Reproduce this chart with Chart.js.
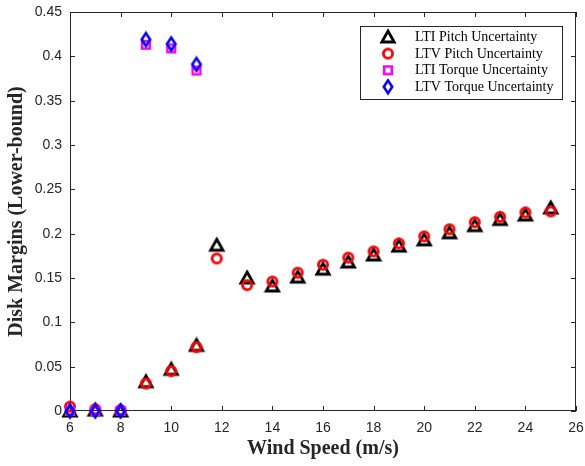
<!DOCTYPE html>
<html>
<head>
<meta charset="utf-8">
<script src="https://cdn.jsdelivr.net/npm/chart.js@4.4.1/dist/chart.umd.min.js"></script>
<style>
	body { margin: 0; background: #fff; }
	#wrap { width: 585px; height: 466px; }
</style>
</head>
<body>
<div id="wrap"><canvas id="chart"></canvas></div>
<script>
/* data */
const pitchSpeed = [6, 7, 8, 9, 10, 11, 11.8, 13, 14, 15, 16, 17, 18, 19, 20, 21, 22, 23, 24, 25]
const ltiPitch = [0, 0.001, 0, 0.033, 0.047, 0.074, 0.187, 0.150, 0.141, 0.151, 0.160, 0.168, 0.176, 0.186, 0.193, 0.201, 0.209, 0.216, 0.221, 0.229]
const ltvPitch = [0.005, 0.002, 0.001, 0.031, 0.045, 0.072, 0.172, 0.142, 0.146, 0.156, 0.165, 0.173, 0.180, 0.189, 0.197, 0.205, 0.213, 0.219, 0.224, 0.225]
const torqueSpeed = [6, 7, 8, 9, 10, 11]
const ltiTorque = [0, 0, 0, 0.413, 0.409, 0.384]
const ltvTorque = [0, 0, 0, 0.419, 0.414, 0.391]
const seriesLabels = ['LTI Pitch Uncertainty', 'LTV Pitch Uncertainty', 'LTI Torque Uncertainty', 'LTV Torque Uncertainty']
const xTicks = [6, 8, 10, 12, 14, 16, 18, 20, 22, 24, 26]
const yTicks = [0, 0.05, 0.1, 0.15, 0.2, 0.25, 0.3, 0.35, 0.4, 0.45]

const axisColor = '#262626'

// hollow MATLAB-like markers
const makeMarker = (kind, color) => {
	const c = document.createElement('canvas')
	c.width = 18
	c.height = 18
	const g = c.getContext('2d')
	g.strokeStyle = color
	g.lineWidth = 2.8
	g.lineJoin = 'miter'
	g.beginPath()
	if (kind === 'tri') {
		g.moveTo(9, 3)
		g.lineTo(15.2, 14)
		g.lineTo(2.8, 14)
		g.closePath()
	} else if (kind === 'circle') {
		g.arc(9, 9, 4.6, 0, Math.PI * 2)
	} else if (kind === 'square') {
		g.lineWidth = 2.6
		g.rect(5.2, 5.2, 7.6, 7.6)
	} else {
		g.lineWidth = 2.6
		g.moveTo(9, 2.6)
		g.lineTo(13.2, 9)
		g.lineTo(9, 15.4)
		g.lineTo(4.8, 9)
		g.closePath()
	}
	g.stroke()
	return c
}

const toPoints = (xs, ys) => xs.map((x, i) => ({ x: x, y: ys[i] }))

const frame = {
	id: 'frame',
	beforeDatasetsDraw(chart) {
		const { ctx, chartArea: a, scales: { x, y } } = chart
		ctx.save()
		ctx.strokeStyle = axisColor
		ctx.lineWidth = 1
		ctx.strokeRect(a.left + 0.5, a.top + 0.5, a.right - a.left - 1, a.bottom - a.top - 1)
		ctx.beginPath()
		xTicks.forEach((v) => {
			const px = Math.round(x.getPixelForValue(v)) + 0.5
			ctx.moveTo(px, a.bottom)
			ctx.lineTo(px, a.bottom - 5)
			ctx.moveTo(px, a.top)
			ctx.lineTo(px, a.top + 5)
		})
		yTicks.forEach((v) => {
			const py = Math.round(y.getPixelForValue(v)) + 0.5
			ctx.moveTo(a.left, py)
			ctx.lineTo(a.left + 5, py)
			ctx.moveTo(a.right, py)
			ctx.lineTo(a.right - 5, py)
		})
		ctx.stroke()
		ctx.restore()
	},
	afterDraw(chart) {
		const { ctx } = chart
		const box = { left: 360, top: 26, width: 202, height: 73 }
		ctx.save()
		ctx.fillStyle = '#fff'
		ctx.fillRect(box.left, box.top, box.width, box.height)
		ctx.strokeStyle = axisColor
		ctx.lineWidth = 1
		ctx.strokeRect(box.left + 0.5, box.top + 0.5, box.width, box.height)
		ctx.font = '14px "Liberation Serif", serif'
		ctx.textBaseline = 'middle'
		ctx.fillStyle = '#000'
		chart.data.datasets.forEach((ds, i) => {
			const cy = box.top + 11 + i * 16.6
			const m = ds.pointStyle
			ctx.drawImage(m, 388 - m.width / 2, cy - m.height / 2)
			ctx.fillText(ds.label, 415, cy + 0.5)
		})
		ctx.restore()
	}
}

new Chart('chart', {
	type: 'scatter',
	data: {
		datasets: [
			{ label: seriesLabels[0], data: toPoints(pitchSpeed, ltiPitch), pointStyle: makeMarker('tri', '#000000'), order: 4 },
			{ label: seriesLabels[1], data: toPoints(pitchSpeed, ltvPitch), pointStyle: makeMarker('circle', '#ff0000'), order: 3 },
			{ label: seriesLabels[2], data: toPoints(torqueSpeed, ltiTorque), pointStyle: makeMarker('square', '#ff00ff'), order: 2 },
			{ label: seriesLabels[3], data: toPoints(torqueSpeed, ltvTorque), pointStyle: makeMarker('diamond', '#0000ff'), order: 1 }
		]
	},
	options: {
		responsive: true,
		maintainAspectRatio: false,
		animation: false,
		clip: false,
		layout: { padding: { top: 12, right: 9, left: 0, bottom: 0 } },
		plugins: {
			legend: { display: false },
			tooltip: { enabled: false }
		},
		scales: {
			x: {
				type: 'linear',
				min: 6,
				max: 26,
				grid: { display: false, tickLength: 0 },
				border: { display: false },
				afterFit: (s) => {
					s.height = 55
					s.paddingLeft = 0
					s.paddingRight = 0
				},
				afterBuildTicks: (s) => { s.ticks = xTicks.map((v) => ({ value: v })) },
				ticks: {
					color: axisColor,
					padding: 9,
					maxRotation: 0,
					font: { family: '"Liberation Sans", Arial, sans-serif', size: 14 }
				},
				title: {
					display: true,
					text: 'Wind Speed (m/s)',
					color: '#262626',
					padding: { top: 0, bottom: 5 },
					font: { family: '"Liberation Serif", serif', size: 20, weight: 'bold' }
				}
			},
			y: {
				type: 'linear',
				min: 0,
				max: 0.45,
				grid: { display: false, tickLength: 0 },
				border: { display: false },
				afterFit: (s) => {
					s.width = 70
					s.paddingTop = 0
					s.paddingBottom = 0
				},
				afterBuildTicks: (s) => { s.ticks = yTicks.map((v) => ({ value: v })) },
				ticks: {
					color: axisColor,
					padding: 8,
					font: { family: '"Liberation Sans", Arial, sans-serif', size: 14 },
					callback: (v) => String(parseFloat(Number(v).toFixed(2)))
				},
				title: {
					display: true,
					text: 'Disk Margins (Lower-bound)',
					color: '#262626',
					padding: { top: 5, bottom: 0 },
					font: { family: '"Liberation Serif", serif', size: 20, weight: 'bold' }
				}
			}
		}
	},
	plugins: [frame]
})
</script>
</body>
</html>
